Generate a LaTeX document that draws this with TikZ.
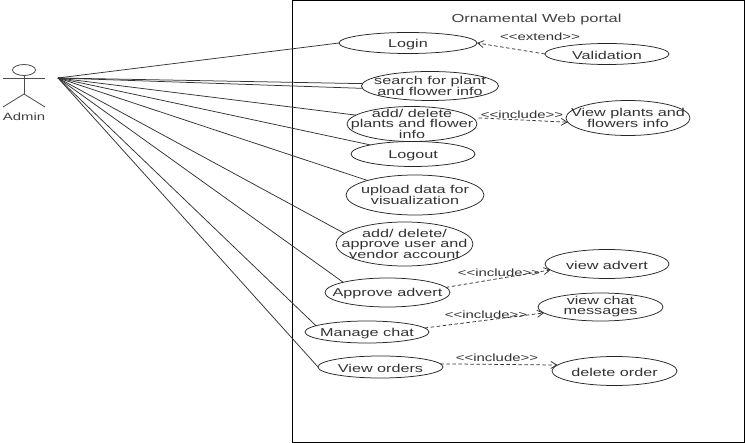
\documentclass[tikz,border=0pt]{standalone}
\usepackage{fontspec}
\setmainfont[FakeStretch=1.42]{Liberation Sans}
\usetikzlibrary{shapes.geometric,arrows.meta}
\tikzset{
  x=1pt,y=-1pt,
  uc/.style={draw=black!85,line width=0.75pt,ellipse,inner xsep=-70pt,inner ysep=-30pt,outer sep=0pt,align=center,font=\fontsize{11.4}{10}\selectfont,text=black!80,execute at begin node=\rule{0pt}{11pt}},
  lbl/.style={inner sep=0pt,font=\fontsize{10.5}{10}\selectfont,text=black!80},
  assoc/.style={draw=black!80,line width=0.75pt},
  dep/.style={draw=black!80,line width=0.75pt,dashed,dash pattern=on 3.5pt off 2.5pt,-{Straight Barb[length=6pt,width=7pt]}},
  actorline/.style={draw=black!70,line width=0.8pt}
}
\begin{document}
\begin{tikzpicture}
\useasboundingbox (0,0) rectangle (746,443);
\fill[white] (0,0) rectangle (746,443);
\node[draw=black,line width=1pt,minimum width=452pt,minimum height=441pt,inner sep=0pt,anchor=north west] (sys) at (292,0.5) {};
\node[inner sep=0pt,font=\fontsize{11.6}{10}\selectfont,text=black!75] (title) at (536.5,20) {Ornamental Web portal};
% actor
\node[draw=black!70,line width=0.8pt,ellipse,minimum width=23pt,minimum height=11pt,inner sep=0pt] (head) at (24,70) {};
\coordinate (hip) at (24,94);
\coordinate (armL) at (3,78);
\coordinate (armR) at (45,78);
\coordinate (footL) at (3,107);
\coordinate (footR) at (45,107);
\draw[actorline] (head) -- (hip);
\draw[actorline] (armL) -- (armR);
\draw[actorline] (footL) -- (hip) -- (footR);
\node[inner sep=0pt,font=\fontsize{10.5}{10}\selectfont,text=black!75] (admin) at (24,117) {Admin};
\coordinate (hub) at (58,78);
% use cases
\node[uc,minimum width=138pt,minimum height=21pt] (login) at (408,43) {Login};
\node[uc,minimum width=124pt,minimum height=21pt] (valid) at (607,54) {Validation};
\node[uc,minimum width=137pt,minimum height=29pt] (search) at (430,86) {search for plant\\and flower info};
\node[uc,minimum width=130pt,minimum height=35pt] (addp) at (412,124) {add/ delete\\plants and flower\\info};
\node[uc,minimum width=124pt,minimum height=25pt] (logout) at (413,154) {Logout};
\node[uc,minimum width=124pt,minimum height=35pt] (viewp) at (628,118) {View plants and\\flowers info};
\node[uc,minimum width=138pt,minimum height=40pt] (upload) at (415,195) {upload data for\\visualization};
\node[uc,minimum width=137pt,minimum height=44pt] (addu) at (404.5,244) {add/ delete/\\approve user and\\vendor account};
\node[uc,minimum width=125pt,minimum height=29pt] (appr) at (387.5,292.5) {Approve advert};
\node[uc,minimum width=124pt,minimum height=29pt] (vadv) at (607,264) {view advert};
\node[uc,minimum width=124pt,minimum height=22pt] (chat) at (367,332) {Manage chat};
\node[uc,minimum width=125pt,minimum height=28pt] (vchat) at (600.5,307) {view chat\\messages};
\node[uc,minimum width=125pt,minimum height=22pt] (orders) at (380.5,367) {View orders};
\node[uc,minimum width=125pt,minimum height=29pt] (delo) at (614.5,371) {delete order};
% associations
\draw[assoc] (hub) -- (login.180);
\draw[assoc] (hub) -- (search.178);
\draw[assoc] (hub) -- (search.182);
\draw[assoc] (hub) -- (addp.171);
\draw[assoc] (hub) -- (logout.168);
\draw[assoc] (hub) -- (upload.163);
\draw[assoc] (hub) -- (addu.170);
\draw[assoc] (hub) -- (appr.167);
\draw[assoc] (hub) -- (chat.173);
\draw[assoc] (hub) -- (orders.180);
% dependencies
\draw[dep] (valid.west) -- (login.east);
\draw[dep,shorten <=6pt] (addp.6) -- (viewp.184);
\draw[dep] (appr.5) -- (vadv.186);
\draw[dep] (chat.4) -- (vchat.186);
\draw[dep] (orders.3) -- (delo.174);
% labels
\node[lbl] (l1) at (540,37) {<{}<extend>{}>};
\node[lbl] (l2) at (522,115) {<{}<include>{}>};
\node[lbl] (l3) at (499,273) {<{}<include>{}>};
\node[lbl] (l4) at (486,315) {<{}<include>{}>};
\node[lbl] (l5) at (497,358) {<{}<include>{}>};
\end{tikzpicture}
\end{document}
